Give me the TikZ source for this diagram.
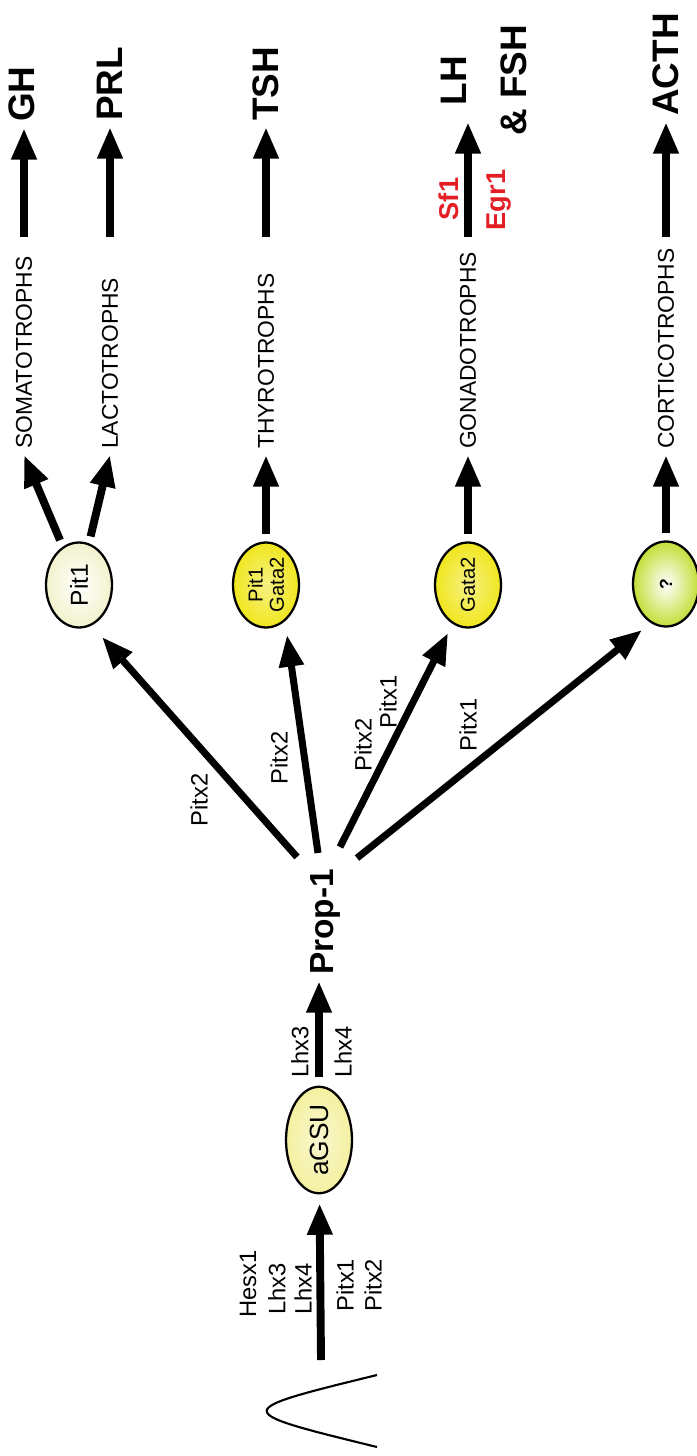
\documentclass[tikz,border=0pt]{standalone}
\usepackage{fontspec}
\setmainfont{Liberation Sans}
\usetikzlibrary{arrows.meta,calc,shapes.geometric}
\definecolor{redlabel}{RGB}{227,30,36}
\definecolor{creamfill}{RGB}{242,242,205}
\definecolor{palefill}{RGB}{244,240,160}
\definecolor{yellowfill}{RGB}{240,230,30}
\definecolor{limefill}{RGB}{195,222,55}

\begin{document}
\begin{tikzpicture}[x=0.02cm,y=-0.02cm,
    arr/.style={line width=4.5pt,-{Triangle[length=18pt,width=13.5pt]}},
    fan/.style={line width=4pt,-{Triangle[length=18pt,width=13.5pt]}},
    txt/.style={rotate=90,font=\fontsize{13.5}{15}\selectfont},
    tf/.style={txt,anchor=west,inner sep=0pt},
    cell/.style={rotate=90,anchor=west,font=\fontsize{13}{15}\selectfont},
    horm/.style={rotate=90,anchor=west,font=\fontsize{21}{25}\selectfont\bfseries},
    blob/.style={ellipse,draw,line width=1.3pt,rotate=90,minimum width=1.7cm,
        minimum height=1.32cm,inner sep=1pt,shade,shading=radial}]
    \useasboundingbox (0,0) rectangle (696,1456);

    % pouch and early factors
    \draw[line width=1.2pt] (377,1375) .. controls (230,1411) .. (377,1447);
    \coordinate (root) at (321,1360);
    \coordinate (hbase) at (0,237);

    \node[blob,inner color=white!50!palefill,outer color=palefill,font=\fontsize{15}{17}\selectfont] (agsu) at (319,1140) {aGSU};
    \node[rotate=90,font=\fontsize{19}{22}\selectfont\bfseries] (prop1) at (325,922) {Prop-1};

    \node[tf] (hesx) at (248,1318) {Hesx1};
    \node[tf] (lhxa) at (277,1315) {Lhx3};
    \node[tf] (lhxb) at (303,1315) {Lhx4};
    \node[tf] (pitxa) at (345,1312) {Pitx1};
    \node[tf] (pitxb) at (373,1312) {Pitx2};
    \node[tf] (lhxc) at (300,1078) {Lhx3};
    \node[tf] (lhxd) at (343,1078) {Lhx4};

    % lineage ellipses
    \node[blob,inner color=white,outer color=creamfill,font=\fontsize{14}{16}\selectfont] (pit1) at (79,585) {Pit1};
    \node[blob,inner color=white!45!yellowfill,outer color=yellowfill,font=\fontsize{11.5}{12}\selectfont,align=center] (pitgata) at (266,585) {Pit1\\Gata2};
    \node[blob,inner color=white!45!yellowfill,outer color=yellowfill,font=\fontsize{11.5}{13}\selectfont] (gata2) at (468,585) {Gata2};
    \node[blob,inner color=white,outer color=limefill,font=\fontsize{10}{11}\selectfont\bfseries] (unk) at (666,584) {?};

    \node[txt] (lbla) at (199,800) {Pitx2};
    \node[txt] (lblb) at (279,758) {Pitx2};
    \node[txt] (lblc) at (363,745) {Pitx2};
    \node[txt] (lbld) at (388,702) {Pitx1};
    \node[txt] (lble) at (468,725) {Pitx1};

    % cell types and hormones
    \node[cell] (soma) at (24,455) {SOMATOTROPHS};
    \node[cell] (lacto) at (110,455) {LACTOTROPHS};
    \node[cell] (thyro) at (266,455) {THYROTROPHS};
    \node[cell] (gonado) at (468,455) {GONADOTROPHS};
    \node[cell] (cortico) at (666,455) {CORTICOTROPHS};

    \node[horm] (gh) at (22,128) {GH};
    \node[horm] (prl) at (110,127) {PRL};
    \node[horm] (tsh) at (266,127) {TSH};
    \node[horm,align=center] (lhfsh) at (484,142) {LH\\[9pt]\& FSH};
    \node[horm] (acth) at (666,122) {ACTH};

    \node[rotate=90,text=redlabel,font=\fontsize{15.5}{18}\selectfont\bfseries] (sf1) at (449,199) {Sf1};
    \node[rotate=90,text=redlabel,font=\fontsize{15.5}{18}\selectfont\bfseries] (egr1) at (499,200) {Egr1};

    % arrows
    \draw[arr,shorten >=5pt] (root) -- (agsu);
    \draw[arr,shorten <=5pt] (agsu) -- (agsu |- prop1.west);

    \draw[fan] ($(prop1)+(-28,-65)$) -- ($(pit1)+(23,52)$);
    \draw[fan] ($(prop1)+(-7,-69)$) -- ($(pitgata)+(21,50)$);
    \draw[fan] ($(prop1)+(15,-75)$) -- ($(gata2)+(-20,48)$);
    \draw[fan] ($(prop1)+(32,-64)$) -- ($(unk)+(-24,46)$);

    \draw[arr,shorten <=4pt] (pit1) -- (soma.west);
    \draw[arr,shorten <=4pt] (pit1) -- (lacto.west);
    \foreach \a/\b in {pitgata/thyro,gata2/gonado,unk/cortico}
        \draw[arr,shorten <=4pt] (\a) -- (\b.west);

    \foreach \c/\h in {soma/gh,lacto/prl,thyro/tsh,cortico/acth}
        \draw[arr] (\c.east |- hbase) -- (\c |- \h.west);
    \draw[arr] (gonado.east |- hbase) -- ($(gonado |- lhfsh.west)+(0,-20)$);
\end{tikzpicture}
\end{document}
